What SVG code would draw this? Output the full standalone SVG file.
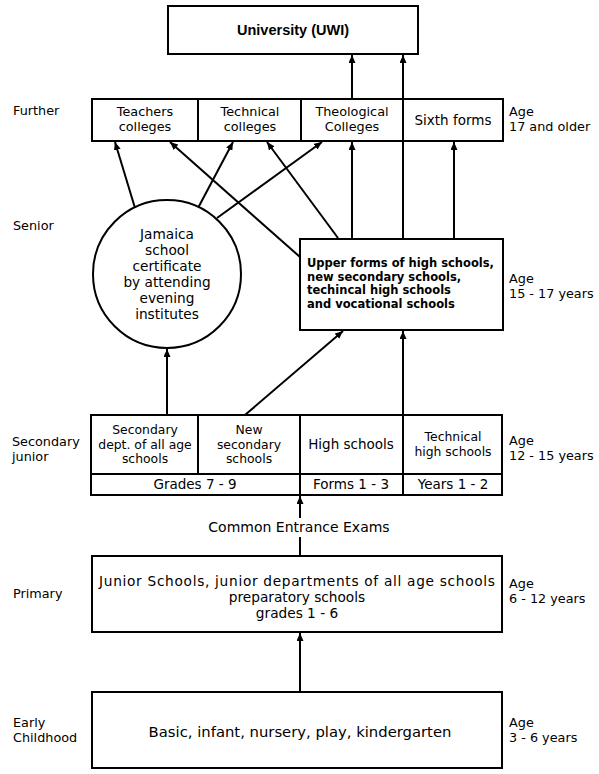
<svg xmlns="http://www.w3.org/2000/svg" width="599" height="774" viewBox="0 0 599 774">
<style>
.box{fill:#fff;stroke:#000;stroke-width:2}
.ln{stroke:#000;stroke-width:2;fill:none}
text{font-family:"DejaVu Sans","Liberation Sans",Arial,sans-serif;font-size:12.8px;fill:#000}
.c{text-anchor:middle}
.lab{font-size:12.8px}
.age{font-size:12.8px}
.fur{font-size:12.8px}
.cir{font-size:13.7px}
.up{font-size:11.5px;font-weight:bold}
.sj{font-size:12.4px}
.row{font-size:13.5px}
.pri{font-size:13.7px}
.uni{font-family:"Liberation Sans",Arial,sans-serif;font-size:14.5px;font-weight:bold}
.conn{stroke:#000;stroke-width:2;fill:none;marker-end:url(#ah)}
</style>
<defs>
<marker id="ah" markerUnits="userSpaceOnUse" markerWidth="8" markerHeight="7" refX="8" refY="3.5" orient="auto">
<path d="M0,0 L8,3.5 L0,7 z" fill="#000"/>
</marker>
</defs>
<rect width="599" height="774" fill="#fff"/>

<g id="labels">
<text class="lab" x="13" y="115">Further</text>
<text class="lab" x="13" y="230">Senior</text>
<text class="lab" x="12" y="446">Secondary</text>
<text class="lab" x="12" y="461">junior</text>
<text class="lab" x="13" y="598">Primary</text>
<text class="lab" x="13" y="727">Early</text>
<text class="lab" x="13" y="742">Childhood</text>
<text class="age" x="509" y="116">Age</text>
<text class="age" x="509" y="131">17 and older</text>
<text class="age" x="509" y="283">Age</text>
<text class="age" x="509" y="298">15 - 17 years</text>
<text class="age" x="509" y="445">Age</text>
<text class="age" x="509" y="460">12 - 15 years</text>
<text class="age" x="509" y="588">Age</text>
<text class="age" x="509" y="603">6 - 12 years</text>
<text class="age" x="509" y="727">Age</text>
<text class="age" x="509" y="742">3 - 6 years</text>
</g>

<g id="connectors">
<line class="conn" x1="135" y1="208" x2="115" y2="142"/>
<line class="conn" x1="300" y1="257" x2="170" y2="142"/>
<line class="conn" x1="198" y1="208" x2="233" y2="142"/>
<line class="conn" x1="217" y1="218" x2="322" y2="142"/>
<line class="conn" x1="338" y1="238" x2="267" y2="142"/>
<line class="conn" x1="352" y1="238" x2="352" y2="142"/>
<line class="conn" x1="403" y1="238" x2="403" y2="55"/>
<line class="conn" x1="454" y1="238" x2="454" y2="142"/>
<line class="conn" x1="352" y1="98" x2="352" y2="55"/>
<line class="conn" x1="167" y1="415" x2="167" y2="349"/>
<line class="conn" x1="245" y1="415" x2="343" y2="331"/>
<line class="conn" x1="403" y1="415" x2="403" y2="331"/>
<line class="ln" x1="300" y1="556" x2="300" y2="537"/>
<line class="conn" x1="300" y1="518" x2="300" y2="496"/>
<line class="conn" x1="300" y1="692" x2="300" y2="633"/>
</g>

<g id="university">
<rect class="box" x="168" y="6" width="250" height="48"/>
<text class="c uni" x="293" y="35">University (UWI)</text>
</g>

<g id="further">
<rect class="box" x="92" y="99" width="411" height="42" fill="none"/>
<line class="ln" x1="198" y1="99" x2="198" y2="141"/>
<line class="ln" x1="301" y1="99" x2="301" y2="141"/>
<line class="ln" x1="403" y1="99" x2="403" y2="141"/>
<text class="c fur" x="145" y="116">Teachers</text>
<text class="c fur" x="145" y="131">colleges</text>
<text class="c fur" x="250" y="116">Technical</text>
<text class="c fur" x="250" y="131">colleges</text>
<text class="c fur" x="352" y="116">Theological</text>
<text class="c fur" x="352" y="131">Colleges</text>
<text class="c" x="453" y="125" style="font-size:13.5px">Sixth forms</text>
</g>

<g id="jamaica">
<circle class="box" cx="167" cy="274" r="74"/>
<text class="c cir" x="167" y="239">Jamaica</text>
<text class="c cir" x="167" y="255">school</text>
<text class="c cir" x="167" y="271">certificate</text>
<text class="c cir" x="167" y="287">by attending</text>
<text class="c cir" x="167" y="303">evening</text>
<text class="c cir" x="167" y="319">institutes</text>
</g>

<g id="upper">
<rect class="box" x="300" y="239" width="203" height="91"/>
<text class="up" x="307" y="267">Upper forms of high schools,</text>
<text class="up" x="307" y="280.5">new secondary schools,</text>
<text class="up" x="307" y="294">techincal high schools</text>
<text class="up" x="307" y="307.5">and vocational schools</text>
</g>

<g id="secondary-junior">
<rect class="box" x="91" y="415" width="411" height="80"/>
<line class="ln" x1="91" y1="474" x2="502" y2="474"/>
<line class="ln" x1="198" y1="415" x2="198" y2="474"/>
<line class="ln" x1="300" y1="415" x2="300" y2="495"/>
<line class="ln" x1="403" y1="415" x2="403" y2="495"/>
<text class="c sj" x="145" y="434">Secondary</text>
<text class="c sj" x="145" y="448.5">dept. of all age</text>
<text class="c sj" x="145" y="463">schools</text>
<text class="c sj" x="249" y="434">New</text>
<text class="c sj" x="249" y="448.5">secondary</text>
<text class="c sj" x="249" y="463">schools</text>
<text class="c" x="351" y="449" style="font-size:13.5px">High schools</text>
<text class="c sj" x="453" y="441">Technical</text>
<text class="c sj" x="453" y="455.5">high schools</text>
<text class="c row" x="195" y="489">Grades 7 - 9</text>
<text class="c row" x="351" y="489">Forms 1 - 3</text>
<text class="c row" x="453" y="489">Years 1 - 2</text>
</g>

<g id="exam">
<text class="c" x="299" y="532" style="font-size:14px">Common Entrance Exams</text>
</g>

<g id="primary">
<rect class="box" x="92" y="556" width="410" height="76"/>
<text class="c pri" x="297" y="586" textLength="396" lengthAdjust="spacing">Junior Schools, junior departments of all age schools</text>
<text class="c pri" x="297" y="602">preparatory schools</text>
<text class="c pri" x="297" y="618">grades 1 - 6</text>
</g>

<g id="early">
<rect class="box" x="92" y="692" width="410" height="76"/>
<text class="c" x="300" y="737" style="font-size:14.8px">Basic, infant, nursery, play, kindergarten</text>
</g>
</svg>
